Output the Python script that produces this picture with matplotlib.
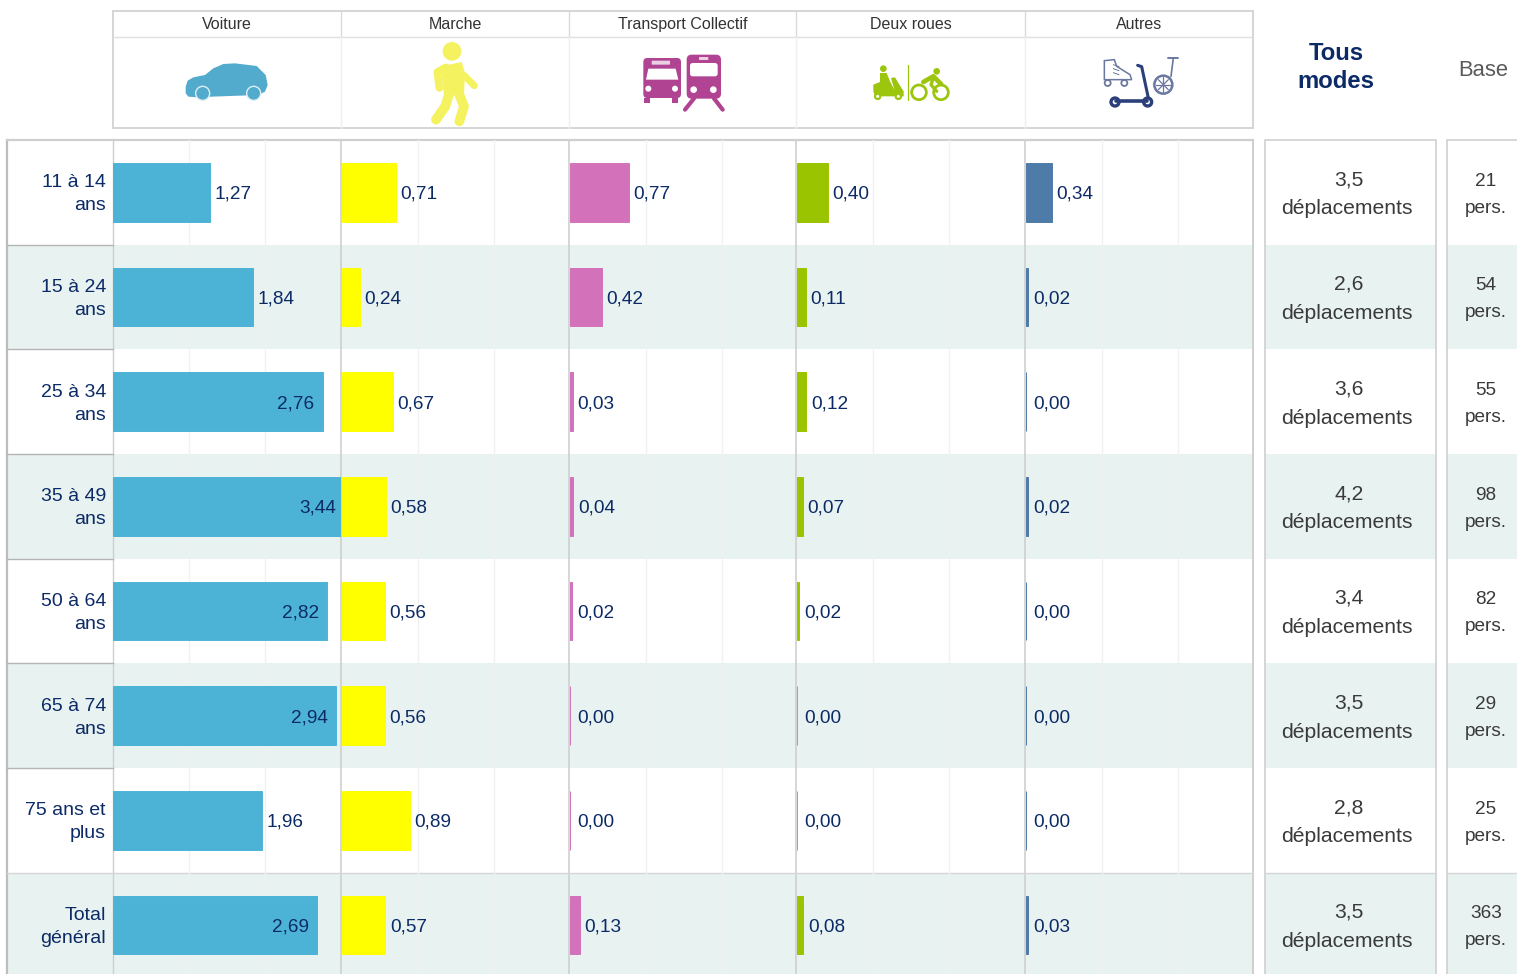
"""Déplacements par mode et par tranche d'âge (tableau de barres)."""
from __future__ import annotations

import matplotlib

matplotlib.use("Agg")
import matplotlib.pyplot as plt
from matplotlib.patches import Circle, FancyBboxPatch, Polygon, Rectangle

plt.rcParams["font.family"] = ["Liberation Sans", "DejaVu Sans"]

W, H = 1517, 974
NAVY = "#0B2A66"
GRIS = "#3A3A3A"
BANDE = "#E8F2F1"
LIGNE = "#CFCFCF"

AGES = ["11 à 14\nans", "15 à 24\nans", "25 à 34\nans", "35 à 49\nans", "50 à 64\nans",
        "65 à 74\nans", "75 ans et\nplus", "Total\ngénéral"]
MODES = ["Voiture", "Marche", "Transport Collectif", "Deux roues", "Autres"]
COULEURS = ["#4DB3D6", "#FFFF00", "#D372BB", "#9AC400", "#4F7BA8"]
VOITURE = [1.27, 1.84, 2.76, 3.44, 2.82, 2.94, 1.96, 2.69]
MARCHE = [0.71, 0.24, 0.67, 0.58, 0.56, 0.56, 0.89, 0.57]
TC = [0.77, 0.42, 0.03, 0.04, 0.02, 0.00, 0.00, 0.13]
DEUX_ROUES = [0.40, 0.11, 0.12, 0.07, 0.02, 0.00, 0.00, 0.08]
AUTRES = [0.34, 0.02, 0.00, 0.02, 0.00, 0.00, 0.00, 0.03]
TOUS_MODES = ["3,5", "2,6", "3,6", "4,2", "3,4", "3,5", "2,8", "3,5"]
BASE = [21, 54, 55, 98, 82, 29, 25, 363]

X_PANELS = [113, 342, 570.3, 797.3, 1026]
X_SEP = [112.8, 340.8, 569.3, 796.5, 1024.8, 1253.5]
PANEL_W = 228
PX_UNITE = PANEL_W / 3
Y_TOP, ROW_H = 140, 104.65
SEUIL_INTERNE = 2.5


def poly(ax, off, pts, color, **kw):
    xy = [(off[0] + x / 3, off[1] + y / 3) for x, y in pts]
    ax.add_patch(Polygon(xy, closed=True, fc=color, ec=kw.pop("ec", "none"), **kw))


def trait(ax, off, pts, color, lw):
    ax.plot([off[0] + x / 3 for x, _ in pts], [off[1] + y / 3 for _, y in pts],
            color=color, lw=lw, solid_capstyle="round", solid_joinstyle="round")


def rond(ax, off, x, y, r, fc, ec="none", lw=0):
    ax.add_patch(Circle((off[0] + x / 3, off[1] + y / 3), r / 3, fc=fc, ec=ec, lw=lw))


def boite(ax, off, x0, y0, x1, y1, color, rad=6):
    ax.add_patch(FancyBboxPatch((off[0] + x0 / 3 + rad / 3, off[1] + y0 / 3 + rad / 3),
                                (x1 - x0 - 2 * rad) / 3, (y1 - y0 - 2 * rad) / 3,
                                boxstyle=f"round,pad={rad / 3}", fc=color, ec="none"))


def icones(ax):
    # voiture
    off, c = (175, 40), "#52ABCC"
    poly(ax, off, [(32, 140), (38, 122), (55, 112), (90, 105), (115, 85), (145, 72), (180, 70),
                   (245, 78), (272, 105), (278, 135), (270, 155), (250, 165), (110, 170),
                   (70, 172), (40, 170), (32, 160)], c)
    for x in (83, 236):
        rond(ax, off, x, 160, 21, c, ec="#DDEFF5", lw=1.0)

    # marcheur
    off, c = (420, 38), "#F5F260"
    rond(ax, off, 96, 40, 28, c)
    poly(ax, off, [(62, 85), (125, 72), (135, 105), (132, 170), (98, 172), (72, 172)], c)
    trait(ax, off, [(78, 88), (52, 102), (58, 150)], c, 5.5)
    trait(ax, off, [(132, 112), (163, 143)], c, 5.0)
    trait(ax, off, [(88, 165), (76, 205), (48, 245)], c, 7.0)
    trait(ax, off, [(116, 165), (132, 205), (118, 250)], c, 7.0)

    # bus et tram
    off, c = (635, 48), "#B04392"
    boite(ax, off, 25, 30, 138, 150, c, rad=12)
    poly(ax, off, [(40, 62), (122, 62), (130, 95), (33, 95)], "white")
    boite(ax, off, 50, 38, 105, 50, "#EBCFE3", rad=2)
    for x in (40, 120):
        rond(ax, off, x, 122, 9, "white")
    for x in (28, 112):
        ax.add_patch(Rectangle((off[0] + x / 3, off[1] + 50), 6, 5, fc=c, ec="none"))
    boite(ax, off, 155, 20, 258, 152, c, rad=15)
    boite(ax, off, 165, 45, 248, 85, "white", rad=8)
    boite(ax, off, 192, 27, 220, 36, "#EBCFE3", rad=2)
    for x in (176, 235):
        rond(ax, off, x, 125, 10, "white")
    trait(ax, off, [(178, 150), (150, 185)], c, 3.0)
    trait(ax, off, [(236, 150), (263, 185)], c, 3.0)

    # scooter et vélo
    off, c = (865, 58), "#9CC50E"
    rond(ax, off, 55, 32, 10, c)
    poly(ax, off, [(45, 45), (65, 45), (76, 72), (88, 95), (78, 60), (90, 58), (102, 78), (116, 100),
                   (116, 115), (30, 115), (25, 100), (25, 80), (45, 72)], c)
    for x in (38, 100):
        rond(ax, off, x, 115, 8, "white", ec=c, lw=1.6)
    trait(ax, off, [(128, 20), (128, 125)], c, 0.9)
    for x in (162, 228):
        rond(ax, off, x, 103, 22, "none", ec=c, lw=2.0)
    rond(ax, off, 215, 40, 10, c)
    trait(ax, off, [(175, 72), (205, 55), (228, 78)], c, 3.4)
    trait(ax, off, [(205, 60), (198, 80), (215, 100)], c, 2.4)

    # roller, trottinette, gyropode
    off, c = (1095, 48), "#2B3F7A"
    gris = "#6A78A0"
    poly(ax, off, [(28, 38), (58, 35), (65, 55), (105, 80), (110, 95), (28, 95)], "white", ec=gris, lw=1.1)
    for y in (50, 62, 74):
        trait(ax, off, [(55, y), (72, y + 6)], gris, 0.7)
    for x in (38, 88):
        rond(ax, off, x, 105, 9, "white", ec=gris, lw=1.3)
    trait(ax, off, [(128, 52), (140, 56), (160, 150)], c, 2.2)
    trait(ax, off, [(62, 158), (155, 158)], c, 2.6)
    for x in (60, 158):
        rond(ax, off, x, 162, 12, "white", ec=c, lw=2.4)
    trait(ax, off, [(220, 30), (248, 30)], gris, 1.4)
    trait(ax, off, [(235, 30), (228, 85)], gris, 1.2)
    rond(ax, off, 205, 110, 27, "white", ec=gris, lw=1.8)
    for p, q in [((205, 88), (205, 132)), ((183, 110), (227, 110)), ((190, 95), (220, 125)), ((190, 125), (220, 95))]:
        trait(ax, off, [p, q], gris, 0.9)


def tableau(bg):
    # bandes, cadres et lignes de la table
    lignes = [Y_TOP + i * ROW_H for i in range(len(AGES) + 1)]
    for i in range(1, len(AGES), 2):
        for x0, x1 in [(7, 1253.5), (1265, 1436), (1447, W)]:
            bg.add_patch(Rectangle((x0, lignes[i]), x1 - x0, ROW_H, fc=BANDE, ec="none"))
    bg.plot([7, 7], [Y_TOP, H], color="#BDBDBD", lw=1.6)
    bg.plot([7, 1253.5], [Y_TOP, Y_TOP], color=LIGNE, lw=1.6)
    bg.plot([1253.5, 1253.5], [Y_TOP, H], color=LIGNE, lw=1.4)
    for x in X_SEP[:-1]:
        bg.plot([x, x], [Y_TOP, H], color=LIGNE, lw=1.2 if x > 113 else 1.0)
    for y in lignes[1:-2]:
        bg.plot([7, 113], [y, y], color="#B5B5B5", lw=1.0)
    bg.plot([7, 1253.5], [lignes[-2]] * 2, color="#D6D6D6", lw=1.0)
    for x0, x1 in [(1265, 1436), (1447, W + 5)]:
        bg.plot([x0, x0, x1, x1], [H, Y_TOP, Y_TOP, H], color=LIGNE, lw=1.2)
        bg.plot([x0, x1], [lignes[-2]] * 2, color="#D6D6D6", lw=1.0)

    # en-tête
    bg.add_patch(Rectangle((113, 11), 1140.5, 117, fc="white", ec="#D5D5D5", lw=1.4))
    bg.plot([113, 1253.5], [37.2, 37.2], color="#E0E0E0", lw=1.0)
    for x in X_SEP[1:-1]:
        bg.plot([x, x], [11, 37.2], color="#DADADA", lw=1.0)
        bg.plot([x, x], [37.2, 128], color="#EFEFEF", lw=1.0)
    for i, mode in enumerate(MODES):
        bg.text((X_SEP[i] + X_SEP[i + 1]) / 2, 24.5, mode, ha="center", va="center",
                fontsize=11.5, color="#333333")
    bg.text(1336, 54, "Tous", ha="center", va="center", fontsize=17.2, color=NAVY, fontweight="bold")
    bg.text(1336, 82, "modes", ha="center", va="center", fontsize=17.2, color=NAVY, fontweight="bold")
    bg.text(1483.5, 71, "Base", ha="center", va="center", fontsize=15.8, color="#5A5A5A")

    # libellés de ligne et colonnes de droite
    for i in range(len(AGES)):
        yc = lignes[i] + ROW_H / 2
        haut, bas = AGES[i].split("\n")
        bg.text(106, yc - 9.5, haut, ha="right", va="center", fontsize=14, color=NAVY)
        bg.text(106, yc + 13.5, bas, ha="right", va="center", fontsize=14, color=NAVY)
        bg.text(1349, yc - 12.5, TOUS_MODES[i], ha="center", va="center", fontsize=15.2, color=GRIS)
        bg.text(1346.5, yc + 16.5, "déplacements", ha="center", va="center", fontsize=15.2, color=GRIS)
        bg.text(1486, yc - 11, str(BASE[i]), ha="center", va="center", fontsize=13.7, color=GRIS)
        bg.text(1486, yc + 16, "pers.", ha="center", va="center", fontsize=13.7, color=GRIS)


def panneau(fig, x0, valeurs, couleur):
    rows = (H - Y_TOP) / ROW_H
    ax = fig.add_axes([x0 / W, 0, PANEL_W / W, (H - Y_TOP) / H])
    ax.patch.set_alpha(0)
    ax.set_xlim(0, 3)
    ax.set_ylim(rows - 0.5, -0.5)
    ax.set_xticks([1, 2])
    ax.set_yticks([])
    ax.tick_params(length=0, labelbottom=False)
    ax.grid(axis="x", color="#F0F2F2", lw=1.0)
    ax.set_axisbelow(True)
    for s in ax.spines.values():
        s.set_visible(False)
    ypos = list(range(len(valeurs)))
    ax.barh(ypos, valeurs, height=0.56, color=couleur, edgecolor=couleur, lw=0.7)
    for y, v in zip(ypos, valeurs):
        txt = f"{v:.2f}".replace(".", ",")
        if v >= SEUIL_INTERNE:
            xt, dx, ha = min(v, 3), -4.5 if v > 3 else -8.5, "right"
        else:
            xt, dx, ha = v, max(4.5, 6.8 - v * PX_UNITE), "left"
        ax.annotate(txt, (xt, y), xytext=(dx, -2), textcoords="offset pixels", ha=ha, va="center",
                    fontsize=13.7, color=NAVY, annotation_clip=False)


def main() -> None:
    fig = plt.figure(figsize=(W / 100, H / 100), dpi=100)
    bg = fig.add_axes([0, 0, 1, 1])
    bg.set_xlim(0, W)
    bg.set_ylim(H, 0)
    bg.axis("off")
    tableau(bg)
    icones(bg)
    bg.set_xlim(0, W)
    bg.set_ylim(H, 0)
    for x0, vals, coul in zip(X_PANELS, [VOITURE, MARCHE, TC, DEUX_ROUES, AUTRES], COULEURS):
        panneau(fig, x0, vals, coul)
    fig.savefig("out.png", dpi=100)


if __name__ == "__main__":
    main()
